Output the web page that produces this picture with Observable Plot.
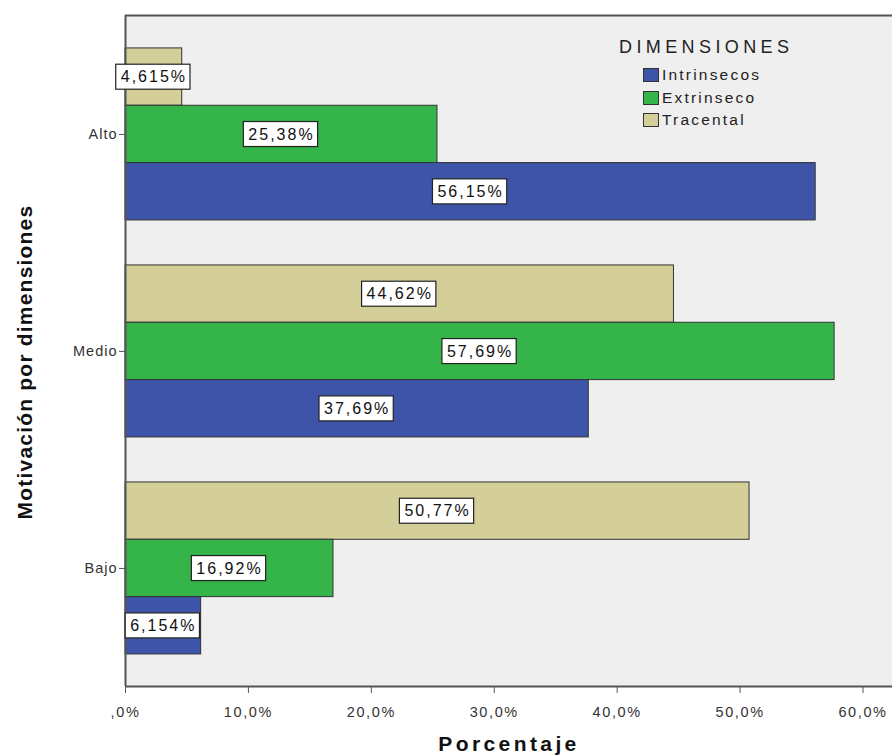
<!DOCTYPE html>
<html>
<head>
<meta charset="utf-8">
<script src="https://cdn.jsdelivr.net/npm/d3@7"></script>
<script src="https://cdn.jsdelivr.net/npm/@observablehq/plot@0.6"></script>
<style>
  html, body { margin: 0; padding: 0; background: #fff; }
  #wrap { position: relative; width: 892px; height: 756px; font-family: "Liberation Sans", Arial, sans-serif; }
  #legend { position: absolute; left: 619px; top: 37px; color: #222; }
  #legend .title { font-size: 18px; letter-spacing: 4.4px; margin-bottom: 6px; }
  #legend .item { display: flex; align-items: center; height: 22.5px; margin-left: 24px; font-size: 15.5px; letter-spacing: 2.2px; color: #222; }
  #legend .sw { width: 16px; height: 14px; border: 1px solid #333; margin-right: 3px; box-sizing: border-box; }
  svg g[aria-label="x-axis tick label"] text { letter-spacing: 1.6px; }
  svg g[aria-label="y-axis tick label"] text { letter-spacing: 1px; }
</style>
</head>
<body>
<div id="wrap"><div id="chart"></div><div id="legend"></div></div>
<script>
// ---- data ----
const categories = ["Alto", "Medio", "Bajo"];
const series = ["Tracental", "Extrinseco", "Intrinsecos"]; // top-to-bottom order within each group
const legendOrder = ["Intrinsecos", "Extrinseco", "Tracental"];
const intrinsecos = [56.15, 37.69, 6.154];
const extrinseco = [25.38, 57.69, 16.92];
const tracental = [4.615, 44.62, 50.77];
const xTicks = [0, 10, 20, 30, 40, 50, 60];
const colors = { Intrinsecos: "#3d54a9", Extrinseco: "#35b44a", Tracental: "#d4ce99" };

const valuesBySeries = { Intrinsecos: intrinsecos, Extrinseco: extrinseco, Tracental: tracental };
const groupPad = 0.1037, barW = 0.2642;
const yDomain = [-0.048, 3.044];

const rows = categories.flatMap((c, i) => series.map((s, j) => ({
  cat: c, serie: s, value: valuesBySeries[s][i],
  y1: i + groupPad + j * barW, y2: i + groupPad + (j + 1) * barW
})));

const fmtVal = v => v.toPrecision(4).replace(".", ",") + "%";
const fmtTick = d => d === 0 ? ",0%" : d.toFixed(1).replace(".", ",") + "%";
const xTitle = "Porcentaje";
const yTitle = "Motivación por dimensiones";

const chart = Plot.plot({
  width: 892,
  height: 756,
  marginLeft: 125,
  marginRight: 0,
  marginTop: 15,
  marginBottom: 70,
  style: { fontFamily: "'Liberation Sans', Arial, sans-serif", fontSize: "14px", color: "#333", background: "transparent" },
  x: { domain: [0, 62.4], label: null },
  y: { domain: yDomain, reverse: true, label: null },
  marks: [
    Plot.frame({ fill: "#efefef", stroke: null }),
    Plot.rectX(rows, { x1: 0, x2: "value", y1: "y1", y2: "y2", fill: d => colors[d.serie], stroke: "#333", strokeWidth: 1 }),
    Plot.ruleY(yDomain, { stroke: "#555", strokeWidth: 2 }),
    Plot.ruleX([0], { stroke: "#555", strokeWidth: 2 }),
    Plot.axisX({ ticks: xTicks, tickFormat: fmtTick, tickSize: 7, tickPadding: 13, fontSize: 14.5, stroke: "#555", label: null }),
    Plot.axisY({ ticks: categories.map((c, i) => i + 0.5), tickFormat: v => categories[Math.floor(v)], tickSize: 6, tickPadding: 2, fontSize: 14.5, stroke: "#555", label: null }),
    Plot.text(rows, { x: d => d.value / 2, y: d => (d.y1 + d.y2) / 2, text: d => fmtVal(d.value), fontSize: 16, fill: "#111" }),
    Plot.text([xTitle], { frameAnchor: "bottom", dy: 64, fontSize: 21, fontWeight: "bold", fill: "#111" }),
    Plot.text([yTitle], { frameAnchor: "left", textAnchor: "middle", rotate: -90, dx: -100, dy: 11, fontSize: 21, fontWeight: "bold", fill: "#111" })
  ]
});

document.getElementById("chart").appendChild(chart);

// text styling and white boxes behind the value labels
const valueTexts = new Set(rows.map(d => fmtVal(d.value)));
chart.querySelectorAll("text").forEach(t => {
  const s = t.textContent;
  if (s === xTitle) t.setAttribute("letter-spacing", "3.4px");
  if (s === yTitle) t.setAttribute("letter-spacing", "1.2px");
  if (valueTexts.has(s) && !t.closest('g[aria-label="x-axis tick label"]')) {
    t.setAttribute("letter-spacing", "2px");
    const b = t.getBBox();
    const r = document.createElementNS("http://www.w3.org/2000/svg", "rect");
    r.setAttribute("x", b.x - 5);
    r.setAttribute("y", b.y - 4);
    r.setAttribute("width", b.width + 8);
    r.setAttribute("height", b.height + 8);
    r.setAttribute("fill", "#fff");
    r.setAttribute("stroke", "#222");
    r.setAttribute("stroke-width", 1.2);
    if (t.getAttribute("transform")) r.setAttribute("transform", t.getAttribute("transform"));
    t.parentNode.insertBefore(r, t);
  }
});

// legend
const lg = document.getElementById("legend");
lg.innerHTML = `<div class="title">DIMENSIONES</div>` + legendOrder.map(s =>
  `<div class="item"><span class="sw" style="background:${colors[s]}"></span>${s}</div>`).join("");
</script>
</body>
</html>
